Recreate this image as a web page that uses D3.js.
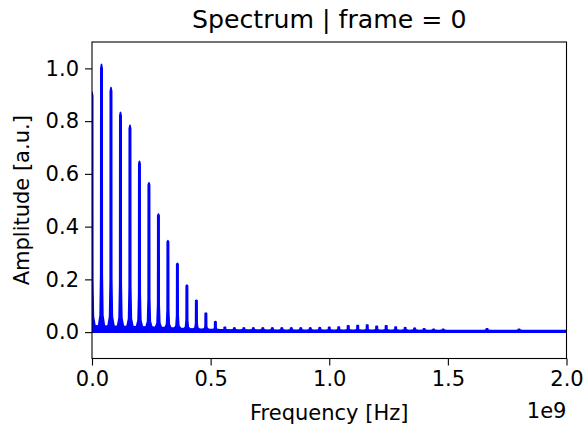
<!DOCTYPE html>
<html>
<head>
<meta charset="utf-8">
<script src="https://cdn.jsdelivr.net/npm/d3@7"></script>
<style>
  body { margin: 0; background: #fff; }
  svg { display: block; font-family: "DejaVu Sans", sans-serif; }
</style>
</head>
<body>
<svg id="chart" width="585" height="428"></svg>
<script>
// frequencies in units of 1e9 Hz
var peakFreq = [0, 0.04, 0.08, 0.12, 0.16, 0.20, 0.24, 0.28, 0.32, 0.36,
                0.40, 0.44, 0.48, 0.52, 0.56, 0.60, 0.64, 0.68, 0.72, 0.76,
                0.80, 0.84, 0.88, 0.92, 0.96, 1.00, 1.04, 1.08, 1.12, 1.16,
                1.20, 1.24, 1.28, 1.32, 1.36, 1.40, 1.44, 1.48, 1.665, 1.80];
var peakAmp = [0.91, 1.015, 0.927, 0.833, 0.784, 0.648, 0.566, 0.448, 0.347, 0.261,
               0.178, 0.121, 0.072, 0.040, 0.018, 0.016, 0.016, 0.016, 0.016, 0.016,
               0.016, 0.016, 0.016, 0.016, 0.017, 0.018, 0.019, 0.024, 0.025, 0.027,
               0.022, 0.024, 0.019, 0.017, 0.015, 0.013, 0.011, 0.011, 0.013, 0.011];

// noise floor (top of the band) read along the axis
var floorFreq = [0, 0.1, 0.2, 0.3, 0.4, 0.5, 0.6, 0.8, 1.0, 1.2, 1.5, 2.0];
var floorTop  = [0.024, 0.022, 0.020, 0.017, 0.013, 0.010, 0.008, 0.007, 0.007, 0.007, 0.006, 0.006];

var xTicks = [0, 0.5, 1.0, 1.5, 2.0];
var yTicks = [0, 0.2, 0.4, 0.6, 0.8, 1.0];

var mLeft = 92, mRight = 566.5, mTop = 42, mBottom = 358.5;

var svg = d3.select("#chart");

var x = d3.scaleLinear().domain([0, 2]).range([mLeft, mRight]);
var y = d3.scaleLinear().domain([-0.1, 1.1]).range([mBottom, mTop]);
var floorAt = d3.scaleLinear().domain(floorFreq).range(floorTop).clamp(true);

svg.append("clipPath").attr("id", "clip")
  .append("rect")
  .attr("x", mLeft).attr("y", mTop)
  .attr("width", mRight - mLeft).attr("height", mBottom - mTop);

var plot = svg.append("g").attr("clip-path", "url(#clip)");

// noise band
var area = d3.area()
  .x(function (d) { return x(d) })
  .y0(y(0))
  .y1(function (d) { return y(floorAt(d)) });

plot.append("path")
  .datum(floorFreq)
  .attr("d", area)
  .attr("fill", "#0000ff")
  .attr("stroke", "#0000ff")
  .attr("stroke-width", 1.6);

// spike shape: [pixel offset, fraction of height above floor]
var shape = [[-3, 0], [-1.4, 0.04], [-0.8, 0.2], [-0.7, 0.985], [0, 1],
             [0.7, 0.985], [0.8, 0.2], [1.4, 0.04], [3, 0]];

var spike = d3.line()
  .x(function (p) { return p[0] })
  .y(function (p) { return p[1] });

plot.append("g")
  .selectAll("path")
  .data(peakFreq)
  .enter().append("path")
  .attr("d", function (f, i) {
    var fl = floorAt(f);
    var a = peakAmp[i];
    return spike(shape.map(function (s) {
      return [x(f) + s[0], y(fl + (a - fl) * s[1])];
    }));
  })
  .attr("fill", "#0000ff")
  .attr("stroke", "#0000ff")
  .attr("stroke-width", 1.6)
  .attr("stroke-linejoin", "round");

// axes
var xAxis = d3.axisBottom(x).tickValues(xTicks).tickFormat(d3.format(".1f"))
  .tickSize(7).tickPadding(6).tickSizeOuter(0);
var yAxis = d3.axisLeft(y).tickValues(yTicks).tickFormat(d3.format(".1f"))
  .tickSize(7).tickPadding(6).tickSizeOuter(0);

var gx = svg.append("g").attr("transform", "translate(0," + mBottom + ")").call(xAxis);
var gy = svg.append("g").attr("transform", "translate(" + mLeft + ",0)").call(yAxis);

[gx, gy].forEach(function (g) {
  g.select(".domain").remove();
  g.selectAll("line").attr("stroke", "#000").attr("stroke-width", 1.1);
  g.selectAll("text").attr("fill", "#000").style("font-size", "21px")
    .style("font-family", "DejaVu Sans");
});

svg.append("rect")
  .attr("x", mLeft).attr("y", mTop)
  .attr("width", mRight - mLeft).attr("height", mBottom - mTop)
  .attr("fill", "none").attr("stroke", "#000").attr("stroke-width", 1.1);

svg.append("text")
  .attr("x", (mLeft + mRight) / 2).attr("y", 28)
  .attr("text-anchor", "middle")
  .style("font-size", "25.2px")
  .text("Spectrum | frame = 0");

svg.append("text")
  .attr("x", (mLeft + mRight) / 2).attr("y", 420)
  .attr("text-anchor", "middle")
  .style("font-size", "21px")
  .text("Frequency [Hz]");

svg.append("text")
  .attr("x", mRight).attr("y", 418)
  .attr("text-anchor", "end")
  .style("font-size", "21px")
  .text("1e9");

svg.append("text")
  .attr("transform", "translate(29," + (mTop + mBottom) / 2 + ") rotate(-90)")
  .attr("text-anchor", "middle")
  .style("font-size", "21px")
  .text("Amplitude [a.u.]");
</script>
</body>
</html>
